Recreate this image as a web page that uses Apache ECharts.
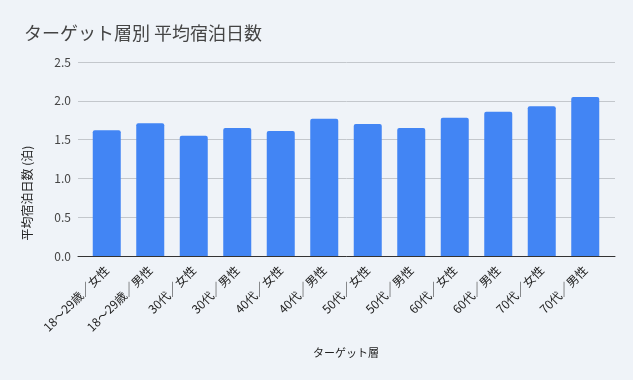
<!DOCTYPE html>
<html><head><meta charset="utf-8">
<script src="https://cdn.jsdelivr.net/npm/echarts@6/dist/echarts.min.js"></script>
<style>html,body{margin:0;padding:0;background:#eff3f8;}#c{width:633px;height:380px;}</style>
</head><body><div id="c"></div>
<script>
const categories = ['18～29歳／女性','18～29歳／男性','30代／女性','30代／男性','40代／女性','40代／男性','50代／女性','50代／男性','60代／女性','60代／男性','70代／女性','70代／男性'];
const values = [1.62, 1.71, 1.55, 1.65, 1.61, 1.77, 1.70, 1.65, 1.78, 1.86, 1.93, 2.05];
const yTicks = [0, 0.5, 1.0, 1.5, 2.0, 2.5];
const font = '"Noto Sans CJK JP", Roboto, Arial, sans-serif';
const chart = echarts.init(document.getElementById('c'));
const yMin = yTicks[0], yMax = yTicks[yTicks.length-1];
chart.setOption({
  backgroundColor: '#eff3f8',
  textStyle: {fontFamily: font},
  title: {text: 'ターゲット層別 平均宿泊日数', left: 19, top: 19,
    textStyle: {fontSize: 18, fontWeight: 'normal', color: '#444', fontFamily: font}},
  grid: [
    {left: 78, right: 18, top: 62, bottom: 124},
    {left: 85, right: 26, top: 62, bottom: 124}
  ],
  xAxis: [
    {gridIndex: 0, type: 'category', data: categories, axisTick: {show: false},
      axisLabel: {show: false}, axisLine: {lineStyle: {color: '#333'}}},
    {gridIndex: 1, type: 'category', data: categories,
      name: 'ターゲット層', nameLocation: 'middle', nameGap: 91,
      nameTextStyle: {fontSize: 11, color: '#222'},
      axisTick: {show: false}, axisLine: {show: false},
      axisLabel: {rotate: 45, fontSize: 12, color: '#222', interval: 0, margin: 12}}
  ],
  yAxis: [
    {gridIndex: 0, type: 'value', min: yMin, max: yMax, interval: 0.5,
      axisLabel: {fontSize: 12, color: '#444', formatter: v => v.toFixed(1), margin: 7},
      splitLine: {lineStyle: {color: '#c3c7cc'}},
      axisLine: {show: false}, axisTick: {show: false}},
    {gridIndex: 1, type: 'value', min: yMin, max: yMax, interval: 0.5, show: false,
      splitLine: {show: false}}
  ],
  graphic: [{type: 'text', x: 27, y: 193, rotation: Math.PI/2,
    style: {text: '平均宿泊日数 (泊)', fontSize: 12, fill: '#222', fontFamily: font,
      textAlign: 'center', textVerticalAlign: 'middle'}}],
  series: [{type: 'bar', xAxisIndex: 1, yAxisIndex: 1, data: values, barWidth: 28,
    itemStyle: {color: '#4285f4', borderRadius: [2,2,0,0]}}]
});
</script></body></html>
